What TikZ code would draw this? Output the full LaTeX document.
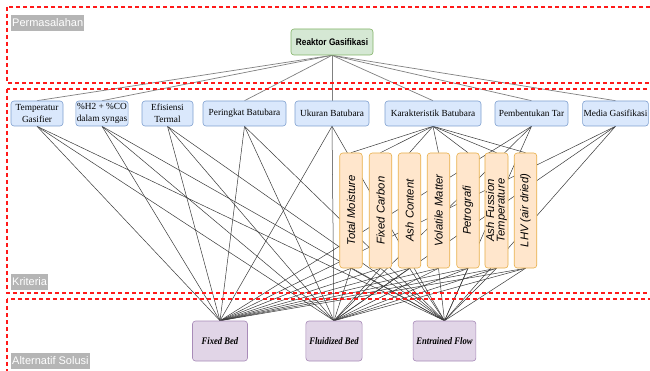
\documentclass[tikz,border=0pt]{standalone}
\usepackage{fontspec}
\setmainfont{Liberation Serif}
\setsansfont{Liberation Sans}
\newfontfamily\goalfont[FakeStretch=0.87]{Liberation Sans}
\newfontfamily\altfont[FakeStretch=0.86]{Liberation Serif}
\usetikzlibrary{backgrounds}
\definecolor{zonered}{HTML}{FF1A1A}
\definecolor{labelgray}{HTML}{B5B5B5}
\definecolor{goalfill}{HTML}{D5E8D4}
\definecolor{goaldraw}{HTML}{82B366}
\definecolor{critfill}{HTML}{DAE8FC}
\definecolor{critdraw}{HTML}{7FA0D0}
\definecolor{subfill}{HTML}{FFE6CC}
\definecolor{subdraw}{HTML}{E8B04A}
\definecolor{altfill}{HTML}{E1D5E7}
\definecolor{altdraw}{HTML}{A88BB8}
\definecolor{linkgray}{HTML}{3A3A3A}
\begin{document}
\begin{tikzpicture}[x=1pt, y=-1pt,
    zone/.style = { draw=zonered, line width=1.4pt, dash pattern=on 4pt off 3pt },
    zonelabel/.style = { anchor=north west, fill=labelgray, text=white,
        font=\sffamily\fontsize{11}{12}\selectfont,
        inner xsep=1pt, inner ysep=1pt, text height=10.5pt, text depth=3pt },
    goal/.style = { draw=goaldraw, fill=goalfill, rounded corners=3pt,
        minimum width=82pt, minimum height=26pt, line width=0.6pt,
        font=\goalfont\bfseries\fontsize{9.5}{11}\selectfont },
    crit/.style = { draw=critdraw, fill=critfill, rounded corners=3pt,
        minimum height=25pt, inner sep=1pt, align=center, line width=0.6pt,
        font=\fontsize{9.3}{12.5}\selectfont },
    sub/.style = { draw=subdraw, fill=subfill, rounded corners=3pt, rotate=90,
        minimum width=115pt, minimum height=22.5pt, inner sep=1pt,
        align=center, line width=0.6pt,
        font=\sffamily\itshape\fontsize{11.3}{10.5}\selectfont },
    alt/.style = { draw=altdraw, fill=altfill, rounded corners=3pt,
        minimum width=55pt, minimum height=40pt, line width=0.6pt,
        font=\altfont\bfseries\itshape\fontsize{10}{11}\selectfont },
    link/.style = { draw=linkgray, line width=0.5pt },
    toplink/.style = { draw=gray, line width=0.7pt }
    ]
\useasboundingbox (0,0) rectangle (650,371);
\clip (0,0) rectangle (650,371);
% goal
\node[goal] (RG) at (332,42) {Reaktor Gasifikasi};
% criteria
\node[crit, minimum width=52pt] (TG) at (37,113.5) {Temperatur\\Gasifier};
\node[crit, minimum width=52pt] (HC) at (102,113.5) {\%H2 + \%CO\\dalam syngas};
\node[crit, minimum width=51pt] (ET) at (167.5,113.5) {Efisiensi\\Termal};
\node[crit, minimum width=83pt] (PB) at (244.5,113.5) {Peringkat Batubara};
\node[crit, minimum width=74pt] (UB) at (332,113.5) {Ukuran Batubara};
\node[crit, minimum width=96pt] (KB) at (433,113.5) {Karakteristik Batubara};
\node[crit, minimum width=73pt] (PT) at (531.5,113.5) {Pembentukan Tar};
\node[crit, minimum width=65pt] (MG) at (615.5,113.5) {Media Gasifikasi};
% sub-criteria
\node[sub] (TM) at (351,210.5) {Total Moisture};
\node[sub] (FC) at (380.5,210.5) {Fixed Carbon};
\node[sub] (AC) at (409.5,210.5) {Ash Content};
\node[sub] (VM) at (438.5,210.5) {Volatile Matter};
\node[sub] (PG) at (468,210.5) {Petrografi};
\node[sub] (AF) at (496.5,210.5) {Ash Fussion\\Temperature};
\node[sub] (LHV) at (525.5,210.5) {LHV (air dried)};
% alternatives
\node[alt] (FB) at (220,341) {Fixed Bed};
\node[alt] (FL) at (334,341) {Fluidized Bed};
\node[alt] (EF) at (444.5,341) {Entrained Flow};
%
\begin{scope}[on background layer]
\fill[white] (0,0) rectangle (650,371);
\foreach \Target in {TG,HC,PB,UB,KB,PT,MG}
    \draw[toplink] (RG.south) -- (\Target.north);
\foreach \Target in {TM,FC,AC,VM,PG,AF,LHV}
    \draw[link] (KB.south) -- (\Target.east);
\foreach \Source in {TG,HC,ET,PB,UB,PT,MG}
    \foreach \Target in {FB,FL,EF}
        \draw[link] (\Source.south) -- (\Target.north);
\foreach \Source in {TM,FC,AC,VM,PG,AF,LHV}
    \foreach \Target in {FB,FL,EF}
        \draw[link] (\Source.west) -- (\Target.north);
\end{scope}
% zones
\draw[zone] (7,7) rectangle (662,83);
\draw[zone] (7,89) rectangle (662,293);
\draw[zone] (7,299) rectangle (662,390);
\node[zonelabel] (LP) at (11,15) {Permasalahan};
\node[zonelabel] (LK) at (11,274) {Kriteria};
\node[zonelabel] (LA) at (11,353) {Alternatif Solusi};
\end{tikzpicture}
\end{document}
